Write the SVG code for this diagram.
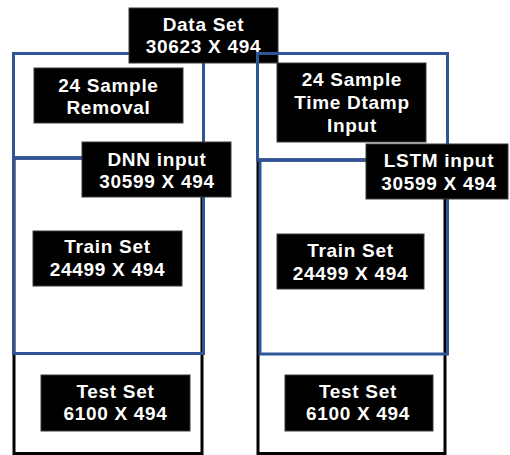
<svg xmlns="http://www.w3.org/2000/svg" width="510" height="455" viewBox="0 0 510 455">
  <style>
    .frame-blue { fill: none; stroke: #2F5597; stroke-width: 3; }
    .frame-black { fill: none; stroke: #000000; stroke-width: 3; }
    .box { fill: #000000; stroke: #3a3a3a; stroke-width: 1; }
    .label { fill: #ffffff; font-family: "Liberation Sans", Arial, sans-serif; font-weight: bold; font-size: 19px; letter-spacing: 0.7px; text-anchor: middle; }
  </style>
  <rect width="510" height="455" fill="#ffffff"/>

  <!-- split frames -->
  <g id="frames">
    <rect class="frame-black" x="14" y="158" width="188" height="295.5"/>
    <rect class="frame-black" x="258" y="160" width="187" height="293.5"/>
    <rect class="frame-blue" x="13.5" y="158" width="190" height="195.5"/>
    <rect class="frame-blue" x="260" y="160" width="187.5" height="194"/>
    <rect class="frame-blue" x="13.5" y="53.5" width="190" height="104.5"/>
  </g>

  <g id="data-set">
    <rect class="box" x="129" y="8" width="149" height="55"/>
    <text class="label" x="203.5" y="31">Data Set</text>
    <text class="label" x="203.5" y="53">30623 X 494</text>
  </g>

  <g id="frames-top-right">
    <rect class="frame-blue" x="257.5" y="53.5" width="190" height="106.5"/>
  </g>

  <g id="sample-removal">
    <rect class="box" x="34" y="68" width="149" height="55"/>
    <text class="label" x="108.5" y="92">24 Sample</text>
    <text class="label" x="108.5" y="114">Removal</text>
  </g>

  <g id="dnn-input">
    <rect class="box" x="82" y="142" width="149" height="55"/>
    <text class="label" x="157" y="166">DNN input</text>
    <text class="label" x="157" y="188">30599 X 494</text>
  </g>

  <g id="time-stamp-input">
    <rect class="box" x="277" y="63" width="149" height="79"/>
    <text class="label" x="352" y="86">24 Sample</text>
    <text class="label" x="352" y="109">Time Dtamp</text>
    <text class="label" x="352" y="132">Input</text>
  </g>

  <g id="lstm-input">
    <rect class="box" x="366" y="144" width="142" height="55"/>
    <text class="label" x="439" y="167">LSTM input</text>
    <text class="label" x="439" y="190">30599 X 494</text>
  </g>

  <g id="train-left">
    <rect class="box" x="33" y="231" width="149" height="55"/>
    <text class="label" x="107.5" y="253">Train Set</text>
    <text class="label" x="107.5" y="276">24499 X 494</text>
  </g>

  <g id="test-left">
    <rect class="box" x="41" y="375" width="149" height="56"/>
    <text class="label" x="115.5" y="398">Test Set</text>
    <text class="label" x="115.5" y="420">6100 X 494</text>
  </g>

  <g id="train-right">
    <rect class="box" x="277" y="234" width="147" height="55"/>
    <text class="label" x="350.5" y="257">Train Set</text>
    <text class="label" x="350.5" y="280">24499 X 494</text>
  </g>

  <g id="test-right">
    <rect class="box" x="285" y="375" width="148" height="56"/>
    <text class="label" x="358" y="398">Test Set</text>
    <text class="label" x="358" y="420">6100 X 494</text>
  </g>
</svg>
